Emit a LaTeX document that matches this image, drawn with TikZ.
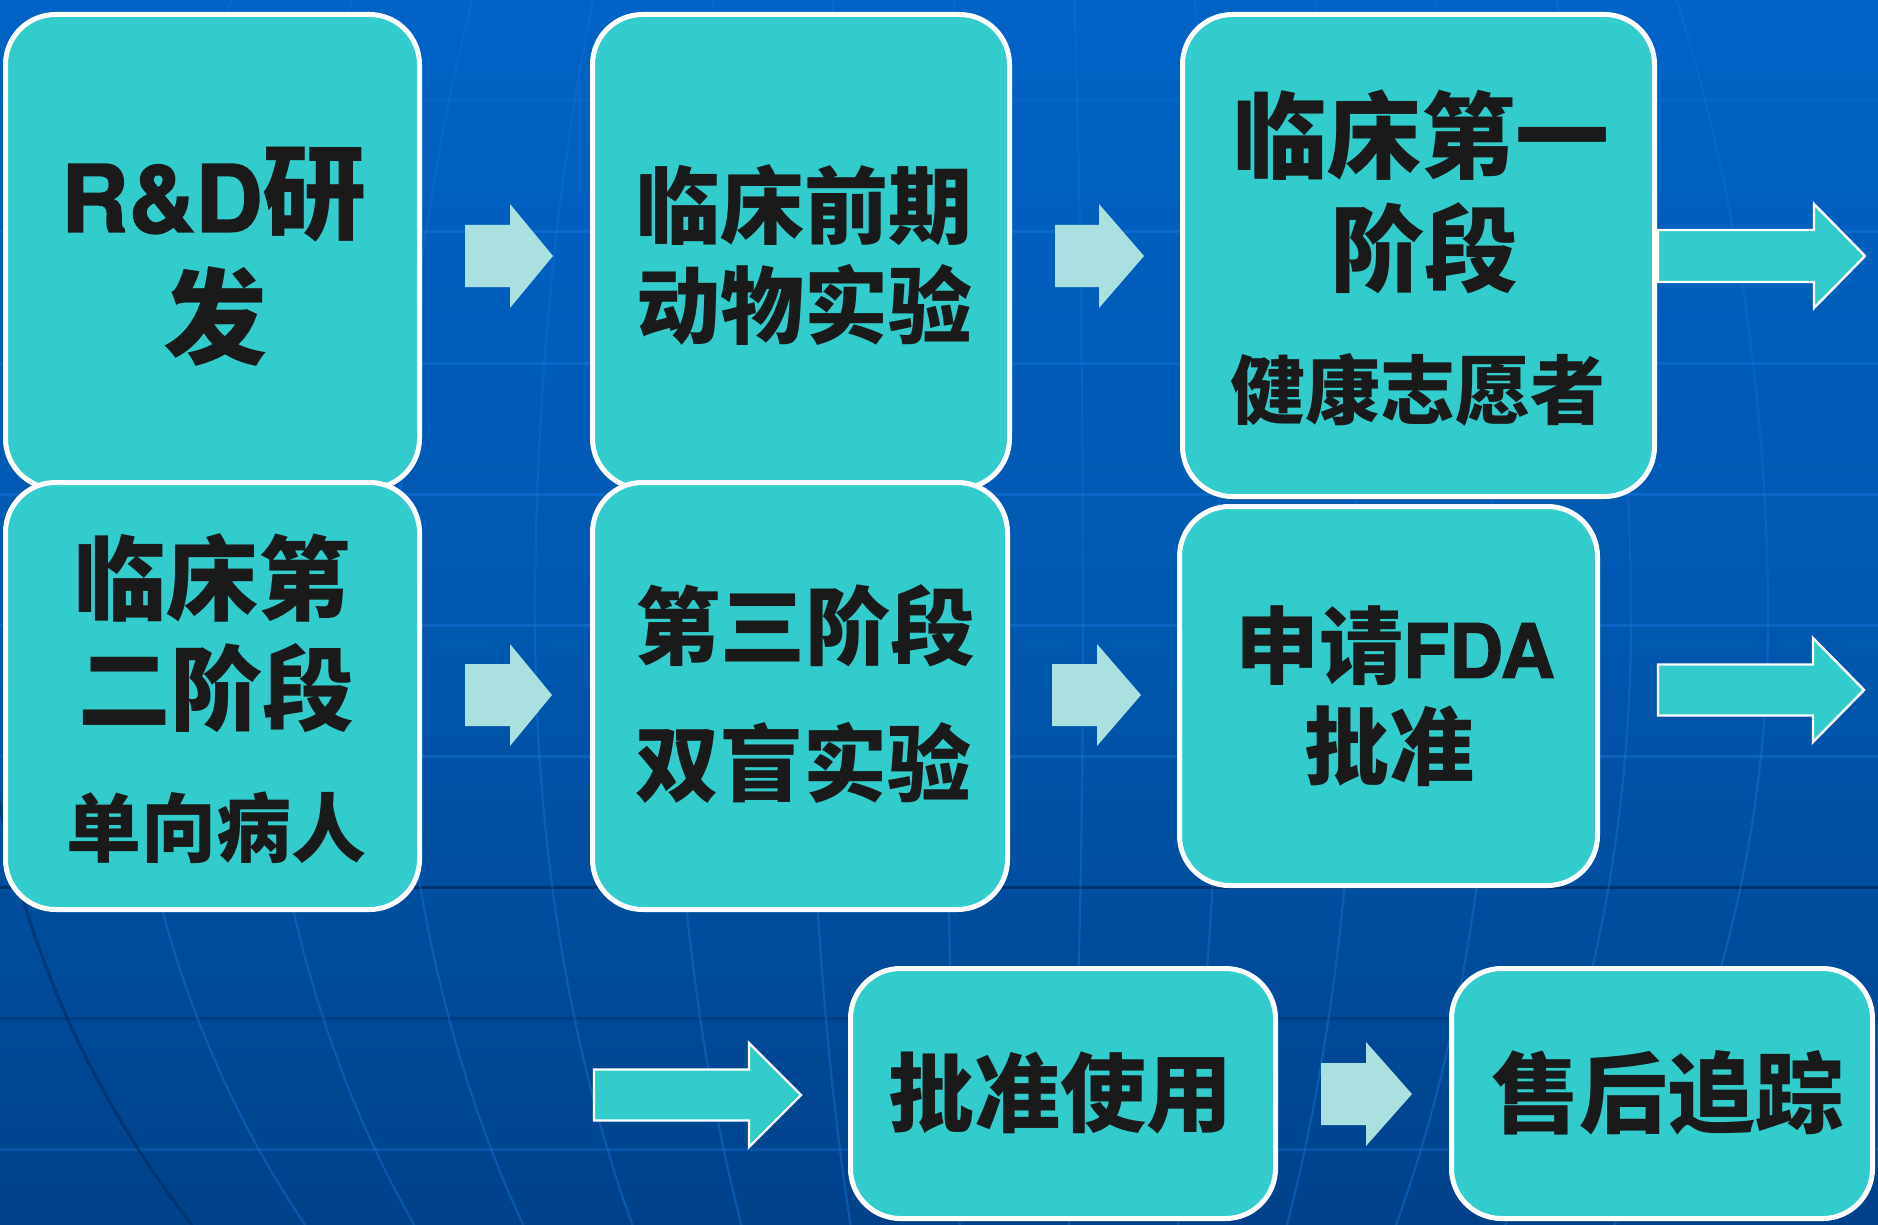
\documentclass[tikz,border=0pt]{standalone}
\usepackage{fontspec}
\newfontfamily\cjk{Noto Sans CJK SC}
\newfontfamily\latinf{texgyreheros-bold.otf}[FakeBold=1.6]
\usetikzlibrary{calc}
\definecolor{tealbox}{HTML}{33CCCC}
\definecolor{lightar}{HTML}{AAE0E0}
\definecolor{txt}{HTML}{1A1A1A}
\definecolor{bgA}{HTML}{00244E}
\definecolor{bgB}{HTML}{00428A}
\definecolor{bgC}{HTML}{0058B0}
\definecolor{bgD}{HTML}{0063C6}
\definecolor{bgE}{HTML}{006CD4}
\definecolor{gridlight}{HTML}{1A78DC}
\definecolor{griddark}{HTML}{002C62}
\pgfdeclareverticalshading{bgshade}{100bp}{color(0bp)=(bgA); color(25bp)=(bgB); color(50bp)=(bgC); color(75bp)=(bgD); color(100bp)=(bgE)}
\newcommand\myfs[1]{\fontsize{#1}{#1}\selectfont}
\newcommand\blockarrow[7]{%
  \path[#1] (#2,{#5-#6}) -- (#3,{#5-#6}) -- (#3,{#5-#7}) -- (#4,#5) -- (#3,{#5+#7}) -- (#3,{#5+#6}) -- (#2,{#5+#6}) -- cycle;}
\begin{document}
\begin{tikzpicture}[x=0.5pt,y=-0.5pt,
  box/.style={draw=white, line width=2.5pt, fill=tealbox, rounded corners=25pt, inner sep=0pt},
  lbl/.style={text=txt, inner sep=0pt, font=\cjk\bfseries},
  hline/.style={draw=gridlight, line width=1.5pt, opacity=.4},
  dline/.style={draw=griddark, line width=1.5pt, opacity=.8},
  mline/.style={draw=gridlight, line width=1.1pt, opacity=.4},
  lightarrow/.style={fill=lightar},
  tealarrow/.style={fill=tealbox, draw=white, line width=1.2pt}]
\useasboundingbox (0,0) rectangle (1878,1225);
% background
\fill[shading=bgshade] (0,0) rectangle (1878,1225);
\begin{scope}
\clip (0,0) rectangle (1878,1225);
\draw[hline, opacity=.2] (0,101) -- (1878,101);
\foreach \yy in {232,363,494,625,756} \draw[hline] (0,\yy) -- (1878,\yy);
\draw[dline] (0,887) -- (1878,887);
\draw[dline, opacity=.4] (0,1018) -- (1878,1018);
\draw[hline, opacity=.3] (0,1149) -- (1878,1149);
\foreach \d in {-889,-752,-615,-478,-341,-204,-67,70,207,344,481,618,755} {
  \draw[mline, opacity=.3] plot[domain=0:620,samples=30,variable=\t] ({1013+(\d)*sqrt(1-((\t-620)/1300)^2)},\t);
  \draw[mline] plot[domain=620:1225,samples=30,variable=\t] ({1013+(\d)*sqrt(1-((\t-620)/1000)^2)},\t);
}
\draw[dline, opacity=.6] plot[domain=700:1225,samples=30,variable=\t] ({1013-1031*sqrt(1-((\t-620)/1000)^2)},\t);
\end{scope}
% boxes (sizes in pt = px/2)
\node[box, minimum width=207pt, minimum height=237pt] (b1) at (212.5,251.5) {};
\node[box, minimum width=208.5pt, minimum height=237pt] (b2) at (801,251.5) {};
\node[box, minimum width=236pt, minimum height=241pt] (b3) at (1418.5,255.5) {};
\node[box, minimum width=207pt, minimum height=213.5pt] (b4) at (212.5,696) {};
\node[box, minimum width=207.5pt, minimum height=213.5pt] (b5) at (800,696) {};
\node[box, minimum width=209pt, minimum height=189.5pt] (b6) at (1388.5,696) {};
\node[box, minimum width=212.5pt, minimum height=125pt] (b7) at (1063,1093.5) {};
\node[box, minimum width=210.5pt, minimum height=125pt] (b8) at (1662,1093.5) {};
% arrows
\blockarrow{lightarrow}{465}{510}{553}{256}{31}{52}
\blockarrow{lightarrow}{1055}{1099}{1144}{256}{31}{52}
\blockarrow{lightarrow}{465}{510}{552}{695}{31}{51}
\blockarrow{lightarrow}{1052}{1097}{1141}{695}{31}{51}
\blockarrow{lightarrow}{1321}{1366}{1412}{1094}{31}{52}
\blockarrow{tealarrow}{1658}{1814}{1865}{256}{26}{52}
\blockarrow{tealarrow}{1658}{1813}{1864}{690}{25.5}{52}
\blockarrow{tealarrow}{594}{749}{801}{1095}{25.5}{52}
% texts
\node[lbl] (t1a) at (214,195) {{\latinf\myfs{46.5}R\&D}{\myfs{52}研}};
\node[lbl, font=\cjk\bfseries\myfs{52}] (t1b) at (215,317) {发};
\node[lbl, font=\cjk\bfseries\myfs{42}] (t2a) at (804,205) {临床前期};
\node[lbl, font=\cjk\bfseries\myfs{42}] (t2b) at (804,305) {动物实验};
\node[lbl, font=\cjk\bfseries\myfs{47}] (t3a) at (1421,135) {临床第一};
\node[lbl, font=\cjk\bfseries\myfs{47}] (t3b) at (1424,248) {阶段};
\node[lbl, font=\cjk\bfseries\myfs{37.5}] (t3c) at (1418,390) {健康志愿者};
\node[lbl, font=\cjk\bfseries\myfs{46}] (t4a) at (212,578) {临床第};
\node[lbl, font=\cjk\bfseries\myfs{46}] (t4b) at (216,688) {二阶段};
\node[lbl, font=\cjk\bfseries\myfs{37.5}] (t4c) at (216,828) {单向病人};
\node[lbl, font=\cjk\bfseries\myfs{42.5}] (t5a) at (805,626) {第三阶段};
\node[lbl, font=\cjk\bfseries\myfs{42}] (t5b) at (803,763) {双盲实验};
\node[lbl] (t6a) at (1395,646) {{\myfs{42}申请}{\latinf\myfs{37.5}FDA}};
\node[lbl, font=\cjk\bfseries\myfs{42.5}] (t6b) at (1389,746) {批准};
\node[lbl, font=\cjk\bfseries\myfs{43}] (t7) at (1060,1093) {批准使用};
\node[lbl, font=\cjk\bfseries\myfs{44}] (t8) at (1667,1093) {售后追踪};
\end{tikzpicture}
\end{document}
